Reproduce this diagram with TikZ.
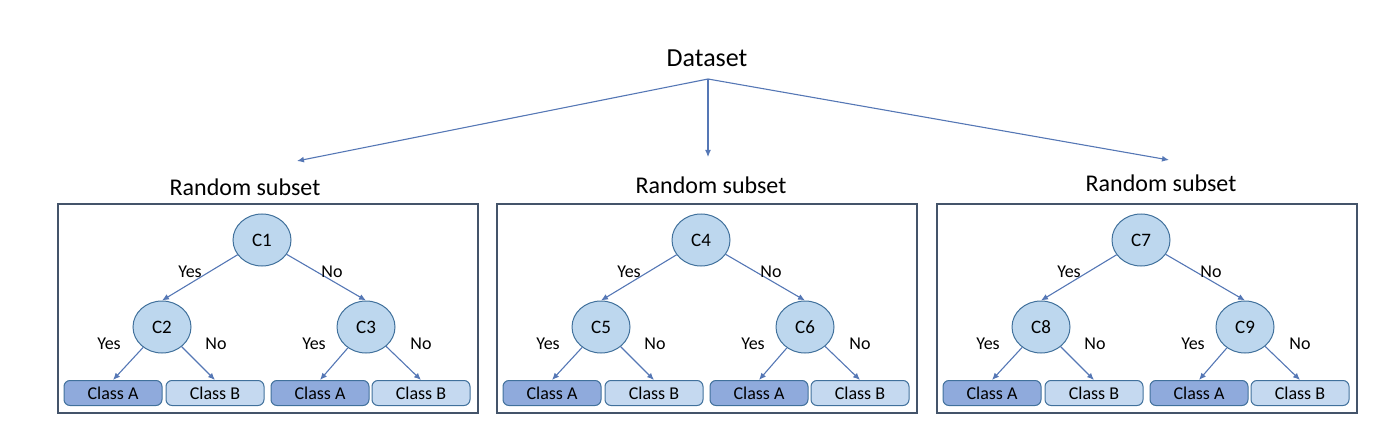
\documentclass[tikz,border=0pt]{standalone}
\usepackage{fontspec}
\setmainfont{Carlito}
\usetikzlibrary{arrows.meta,shapes.geometric}
\definecolor{framecol}{HTML}{44546A}
\definecolor{splitfill}{HTML}{BDD7EE}
\definecolor{splitline}{HTML}{41719C}
\definecolor{classafill}{HTML}{8FAADC}
\definecolor{classbfill}{HTML}{C5D9F0}
\definecolor{arrowcol}{HTML}{5577B5}
\tikzset{
  frame/.style={draw=framecol,line width=1.8pt,minimum width=420pt,minimum height=209pt,inner sep=0pt},
  split/.style={ellipse,draw=splitline,fill=splitfill,line width=1pt,minimum width=58pt,minimum height=52pt,inner sep=0pt,font=\fontsize{19}{21}\selectfont},
  leafa/.style={draw=splitline,fill=classafill,rounded corners=6pt,line width=1pt,minimum width=98pt,minimum height=25pt,inner sep=0pt,font=\fontsize{18}{20}\selectfont},
  leafb/.style={leafa,fill=classbfill},
  lbl/.style={font=\fontsize{18}{20}\selectfont,inner sep=0pt},
  link/.style={draw=arrowcol,line width=1.1pt,-{Latex[length=7pt,width=6pt]}}
}
\begin{document}
\begin{tikzpicture}[x=1pt,y=-1pt]
  \useasboundingbox (0,0) rectangle (1390,433);
  \node[font=\fontsize{26}{28}\selectfont] (data) at (707,58) {Dataset};
  \coordinate (fork) at (708,79);
  \coordinate (tip1) at (297,161);
  \coordinate (tip2) at (708,157);
  \coordinate (tip3) at (1169,160);
  \foreach \t in {1,2,3} \draw[link] (fork) -- (tip\t);
  \foreach \bx/\tx/\ty [count=\i] in {58/187/187,497/214/185,937/224/183}{
    \pgfmathtruncatemacro\ca{3*\i-2}
    \pgfmathtruncatemacro\cb{3*\i-1}
    \pgfmathtruncatemacro\cc{3*\i}
    \begin{scope}[xshift=\bx pt]
      \node[font=\fontsize{24}{26}\selectfont] (title\i) at (\tx,\ty) {Random subset};
      \node[frame] (box\i) at (210,308.5) {};
      \node[split] (root\i) at (204,240) {C\ca};
      \node[split] (left\i) at (104,327) {C\cb};
      \node[split] (right\i) at (308,327) {C\cc};
      \node[leafa] (la\i) at (55,393) {Class A};
      \node[leafb] (lb\i) at (157,393) {Class B};
      \node[leafa] (ra\i) at (262,393) {Class A};
      \node[leafb] (rb\i) at (363,393) {Class B};
      \draw[link] (root\i) -- (left\i.north);
      \draw[link] (root\i) -- (right\i.north);
      \draw[link] (left\i) -- (la\i.north);
      \draw[link] (left\i) -- (lb\i.north);
      \draw[link] (right\i) -- (ra\i.north);
      \draw[link] (right\i) -- (rb\i.north);
      % branch labels
      \node[lbl] (y0\i) at (132,272) {Yes};
      \node[lbl] (n0\i) at (274,272) {No};
      \node[lbl] (y1\i) at (51,344) {Yes};
      \node[lbl] (n1\i) at (158,344) {No};
      \node[lbl] (y2\i) at (256,344) {Yes};
      \node[lbl] (n2\i) at (363,344) {No};
    \end{scope}
  }
\end{tikzpicture}
\end{document}
